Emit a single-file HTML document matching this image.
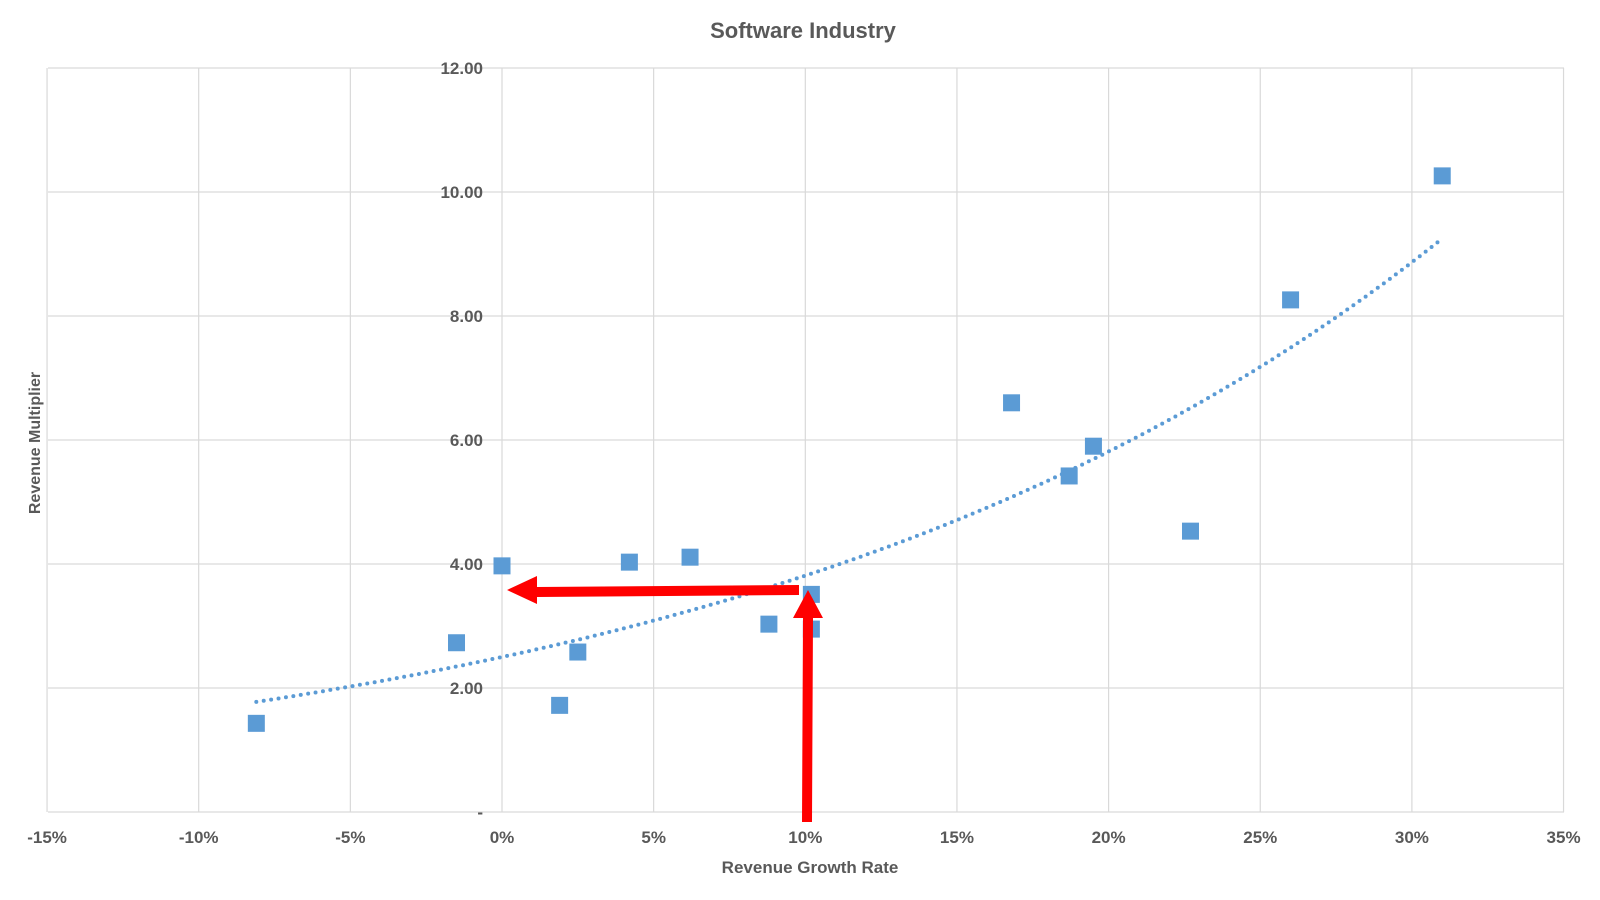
<!DOCTYPE html>
<html><head><meta charset="utf-8"><style>
html,body{margin:0;padding:0;background:#fff;}
svg{display:block;font-family:"Liberation Sans",Arial,sans-serif;}
</style></head><body>
<svg id="c" width="1600" height="900" viewBox="0 0 1600 900" xmlns="http://www.w3.org/2000/svg">
<text x="803" y="38" text-anchor="middle" font-size="22" font-weight="bold" fill="#595959">Software Industry</text>
<g id="grid" stroke="#d9d9d9" stroke-width="1.2"></g>
<g id="lbl" font-size="17" font-weight="bold" fill="#595959"></g>
<text x="810" y="873" text-anchor="middle" font-size="17" font-weight="bold" fill="#595959">Revenue Growth Rate</text>
<text transform="translate(40,443) rotate(-90)" text-anchor="middle" font-size="16" font-weight="bold" fill="#595959">Revenue Multiplier</text>
<path id="trend" fill="none" stroke="#5b9bd5" stroke-width="4" stroke-linecap="round" stroke-dasharray="0 7.5"></path>
<g id="pts" fill="#5b9bd5"></g>
<g fill="#ff0000">
<polygon points="799,585 537,587 537,576 507,590 537,604 537,597 799,595"/>
<polygon points="802,822 803,618 793,618 808,590 823,618 813,618 812,822"/>
</g>
</svg>
<script>
var L=48,R=1564,T=68,B=812;
function X(p){return 502+30.33*p}
function Y(v){return B-62*v}
var g=document.getElementById('grid'),l=document.getElementById('lbl'),s='';
var gs='';
for(var p=-15;p<=35;p+=5){var x=X(p);gs+='<line x1="'+x+'" y1="'+T+'" x2="'+x+'" y2="'+B+'"/>';
s+='<text x="'+x+'" y="843" text-anchor="middle">'+p+'%</text>';}
for(var v=0;v<=12;v+=2){var y=Y(v);gs+='<line x1="'+L+'" y1="'+y+'" x2="'+R+'" y2="'+y+'"/>';
s+='<text x="483" y="'+(y+6)+'" text-anchor="end">'+(v==0?'-':v.toFixed(2))+'</text>';}
g.innerHTML=gs;l.innerHTML=s;
var d='';for(var p=-8.1;p<=31.01;p+=0.1){var v=2.5*Math.exp(4.22*p/100);d+=(d?'L':'M')+X(p).toFixed(1)+','+Y(v).toFixed(1);}
document.getElementById('trend').setAttribute('d',d);
var pts=[[-8.1,1.43],[-1.5,2.73],[0,3.97],[1.9,1.72],[2.5,2.58],[4.2,4.03],[6.2,4.11],[8.8,3.03],[10.2,3.51],[10.2,2.95],[16.8,6.6],[18.7,5.42],[19.5,5.9],[22.7,4.53],[26,8.26],[31,10.26]];
var ps='';pts.forEach(function(q){ps+='<rect x="'+(X(q[0])-8.5)+'" y="'+(Y(q[1])-8.5)+'" width="17" height="17"/>';});
document.getElementById('pts').innerHTML=ps;
</script>
</body></html>
